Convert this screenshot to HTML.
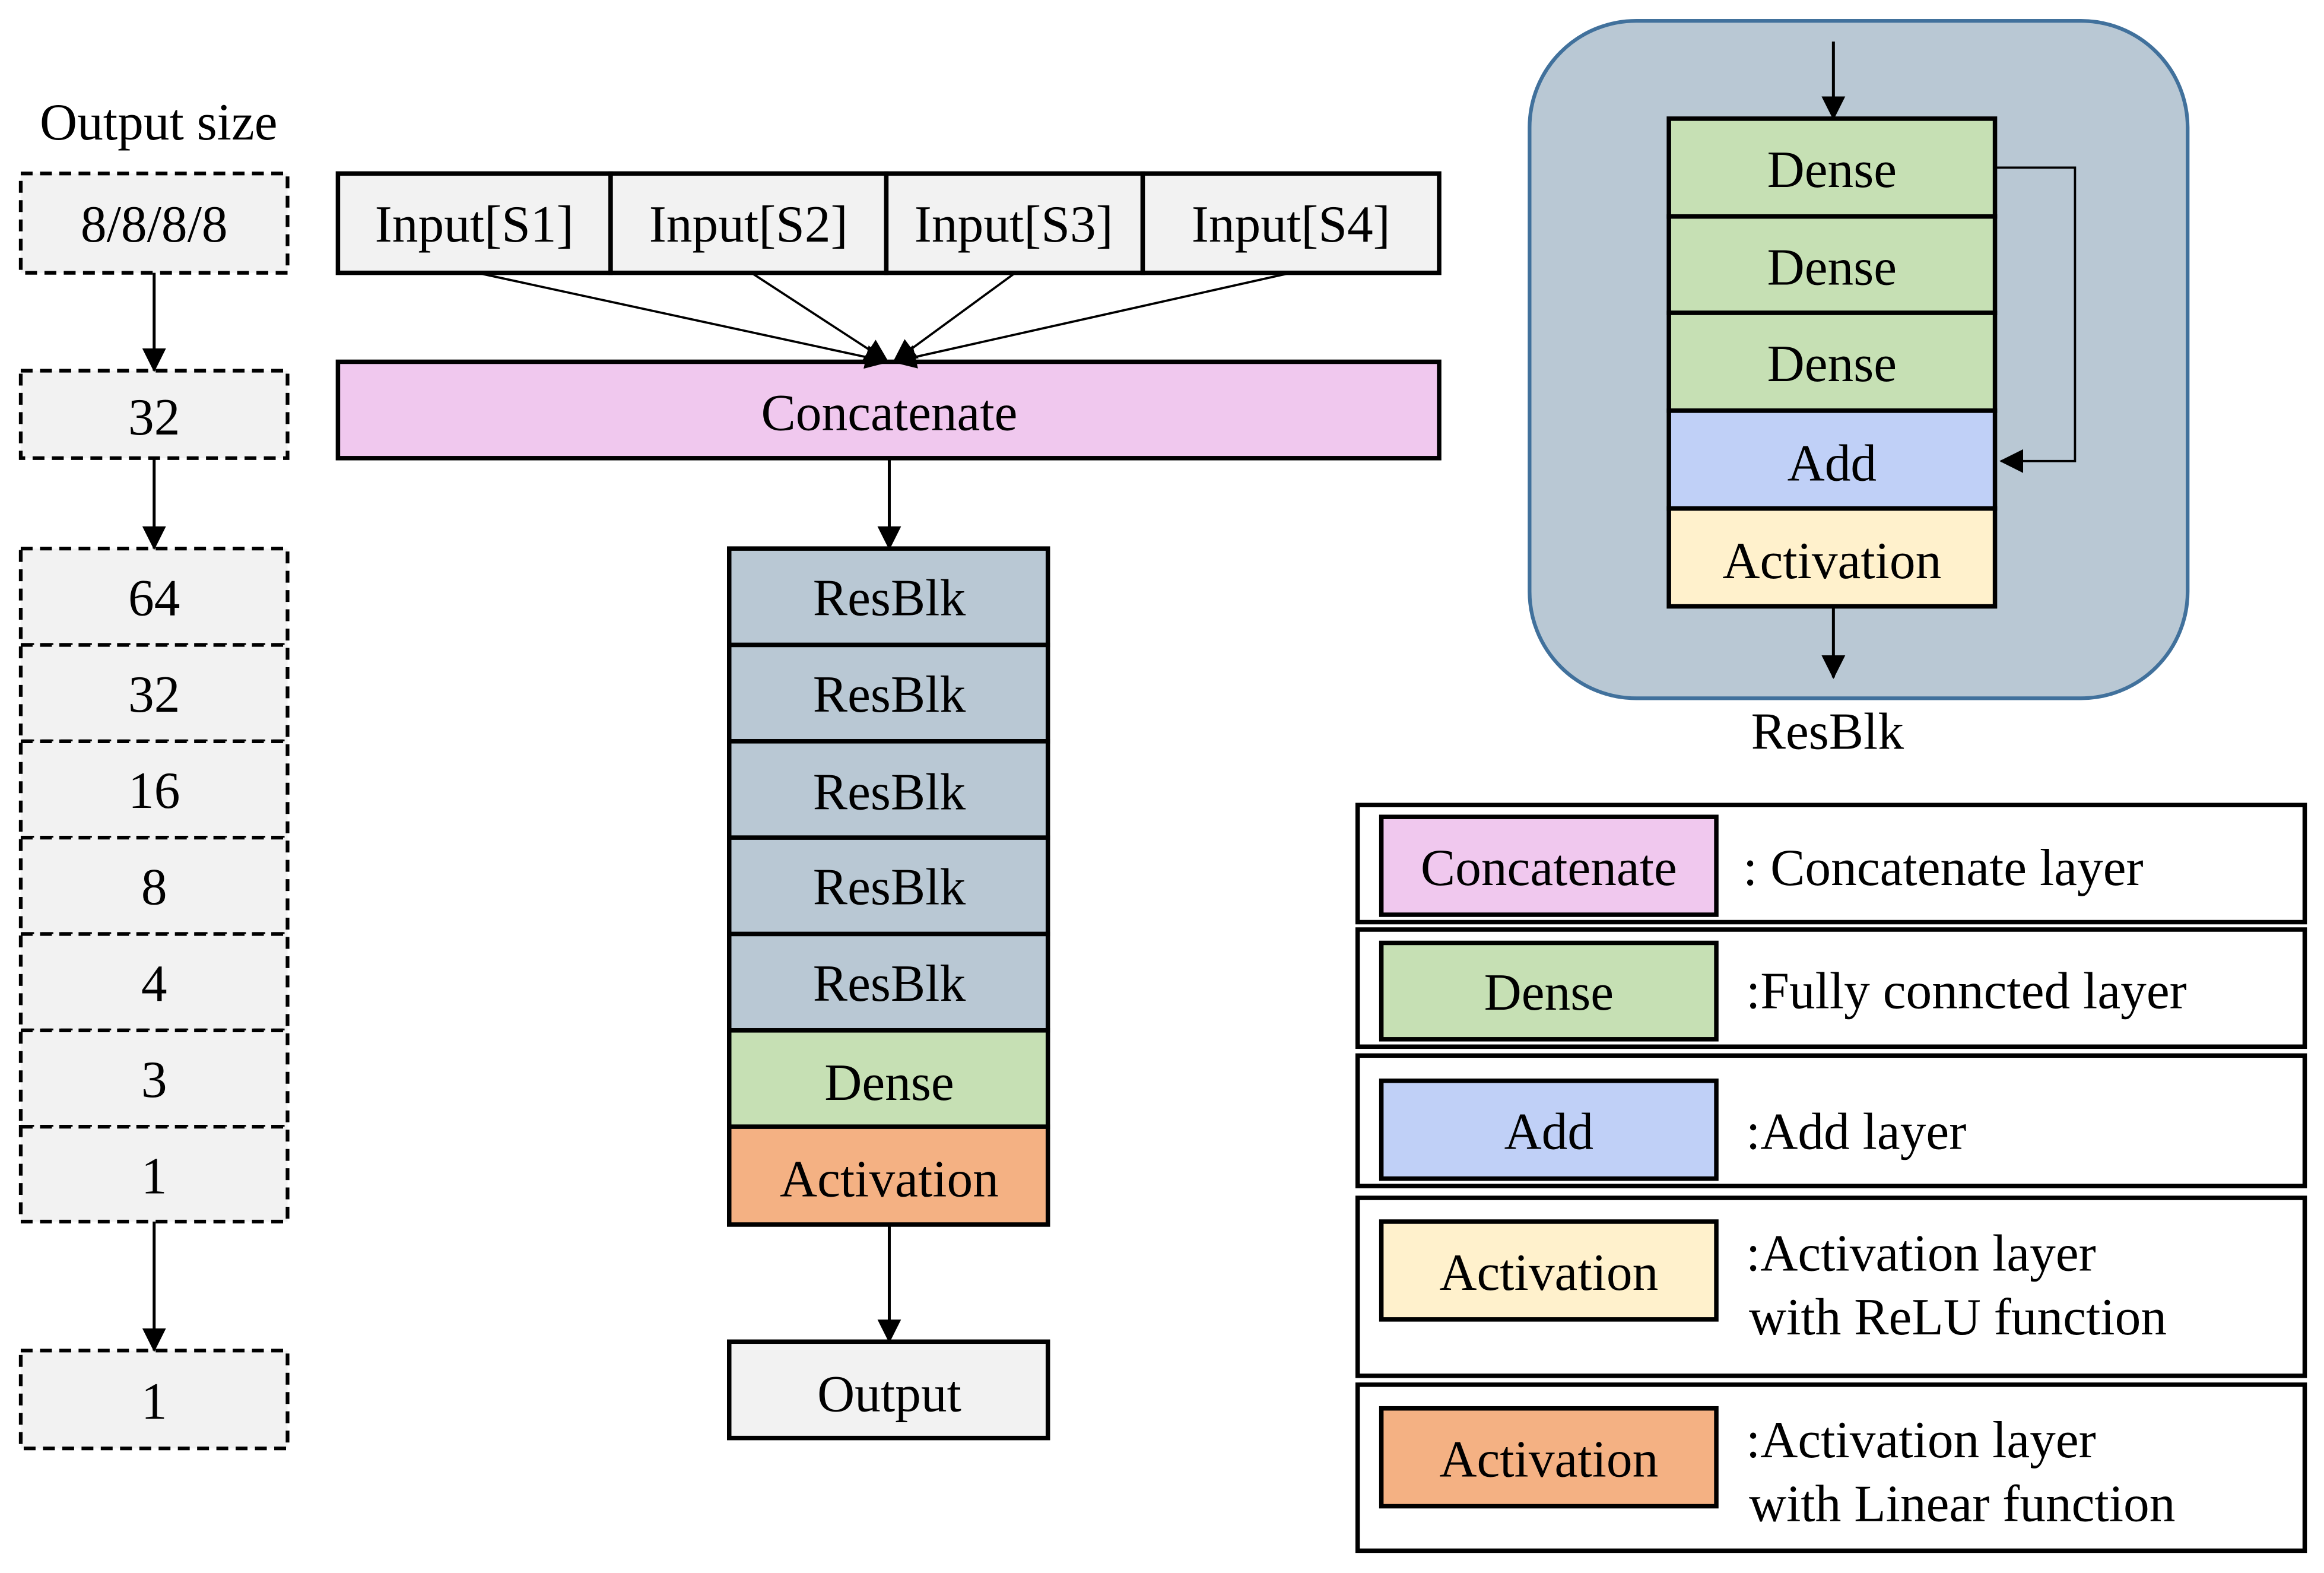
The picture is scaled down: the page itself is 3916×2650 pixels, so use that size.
<!DOCTYPE html>
<html><head><style>html,body{margin:0;padding:0;background:#fff}svg{display:block}</style></head>
<body>
<svg width="3916" height="2650" viewBox="0 0 1568 1061" xmlns="http://www.w3.org/2000/svg" font-family="Liberation Serif, serif" font-size="35" text-anchor="middle">
<defs>
<marker id="b" markerWidth="16" markerHeight="16" refX="15" refY="8" orient="auto" markerUnits="userSpaceOnUse" viewBox="0 0 16 16"><path d="M0,0 L16,8 L0,16 z" fill="#000"/></marker>
</defs>
<rect width="1568" height="1061" fill="#fff"/>
<text x="107" y="94">Output size</text>
<g fill="#f2f2f2" stroke="#000" stroke-width="2.5" stroke-dasharray="8,5">
<rect x="14" y="117" width="180" height="67"/>
<rect x="14" y="250" width="180" height="59"/>
<rect x="14" y="370" width="180" height="65"/>
<rect x="14" y="435" width="180" height="65"/>
<rect x="14" y="500" width="180" height="65"/>
<rect x="14" y="565" width="180" height="65"/>
<rect x="14" y="630" width="180" height="65"/>
<rect x="14" y="695" width="180" height="65"/>
<rect x="14" y="760" width="180" height="64"/>
<rect x="14" y="911" width="180" height="66"/>
</g>
<g>
<text x="104" y="163">8/8/8/8</text>
<text x="104" y="293">32</text>
<text x="104" y="415">64</text>
<text x="104" y="480">32</text>
<text x="104" y="545">16</text>
<text x="104" y="610">8</text>
<text x="104" y="675">4</text>
<text x="104" y="740">3</text>
<text x="104" y="805">1</text>
<text x="104" y="957">1</text>
</g>
<g stroke="#000" stroke-width="2" marker-end="url(#b)">
<line x1="104" y1="184" x2="104" y2="250"/>
<line x1="104" y1="309" x2="104" y2="370"/>
<line x1="104" y1="824" x2="104" y2="911"/>
</g>
<g stroke="#000" stroke-width="3" fill="#f2f2f2">
<rect x="228" y="117" width="184" height="67"/>
<rect x="412" y="117" width="186" height="67"/>
<rect x="598" y="117" width="173" height="67"/>
<rect x="771" y="117" width="200" height="67"/>
<rect x="228" y="244" width="743" height="65" fill="#f0c8ee"/>
</g>
<text x="320" y="163">Input[S1]</text>
<text x="505" y="163">Input[S2]</text>
<text x="684" y="163">Input[S3]</text>
<text x="871" y="163">Input[S4]</text>
<text x="600" y="290">Concatenate</text>
<g stroke="#000" stroke-width="1.5" marker-end="url(#b)">
<line x1="322" y1="184" x2="599" y2="244"/>
<line x1="507" y1="184" x2="599" y2="244"/>
<line x1="685" y1="184" x2="603" y2="244"/>
<line x1="871" y1="184" x2="603" y2="244"/>
</g>
<g stroke="#000" stroke-width="2" marker-end="url(#b)">
<line x1="600" y1="309" x2="600" y2="370"/>
<line x1="600" y1="826" x2="600" y2="905"/>
</g>
<g stroke="#000" stroke-width="3">
<rect x="492" y="370" width="215" height="65" fill="#b9c8d4"/>
<rect x="492" y="435" width="215" height="65" fill="#b9c8d4"/>
<rect x="492" y="500" width="215" height="65" fill="#b9c8d4"/>
<rect x="492" y="565" width="215" height="65" fill="#b9c8d4"/>
<rect x="492" y="630" width="215" height="65" fill="#b9c8d4"/>
<rect x="492" y="695" width="215" height="65" fill="#c6e0b4"/>
<rect x="492" y="760" width="215" height="66" fill="#f4b183"/>
<rect x="492" y="905" width="215" height="65" fill="#f2f2f2"/>
</g>
<text x="600" y="415">ResBlk</text>
<text x="600" y="480">ResBlk</text>
<text x="600" y="546">ResBlk</text>
<text x="600" y="610">ResBlk</text>
<text x="600" y="675">ResBlk</text>
<text x="600" y="742">Dense</text>
<text x="600" y="807">Activation</text>
<text x="600" y="952">Output</text>
<rect x="1032" y="14" width="444" height="457" rx="72" fill="#b9c8d4" stroke="#41719c" stroke-width="2.5"/>
<g stroke="#000" stroke-width="3">
<rect x="1126" y="80" width="220" height="66" fill="#c6e0b4"/>
<rect x="1126" y="146" width="220" height="65" fill="#c6e0b4"/>
<rect x="1126" y="211" width="220" height="66" fill="#c6e0b4"/>
<rect x="1126" y="277" width="220" height="66" fill="#c0d0f7"/>
<rect x="1126" y="343" width="220" height="66" fill="#fff1cc"/>
</g>
<text x="1236" y="126">Dense</text>
<text x="1236" y="192">Dense</text>
<text x="1236" y="257">Dense</text>
<text x="1236" y="324">Add</text>
<text x="1236" y="390">Activation</text>
<g stroke="#000" stroke-width="2" marker-end="url(#b)" fill="none">
<line x1="1237" y1="28" x2="1237" y2="80"/>
<line x1="1237" y1="409" x2="1237" y2="457"/>
<polyline points="1346,113 1400,113 1400,311 1350,311" stroke-width="1.5"/>
</g>
<text x="1233" y="505">ResBlk</text>
<g stroke="#000" stroke-width="3" fill="#fff">
<rect x="916" y="543" width="639" height="79"/>
<rect x="916" y="627" width="639" height="79"/>
<rect x="916" y="712" width="639" height="88"/>
<rect x="916" y="808" width="639" height="120"/>
<rect x="916" y="934" width="639" height="112"/>
<rect x="932" y="551" width="226" height="66" fill="#f0c8ee"/>
<rect x="932" y="636" width="226" height="65" fill="#c6e0b4"/>
<rect x="932" y="729" width="226" height="66" fill="#c0d0f7"/>
<rect x="932" y="824" width="226" height="66" fill="#fff1cc"/>
<rect x="932" y="950" width="226" height="66" fill="#f4b183"/>
</g>
<text x="1045" y="597">Concatenate</text>
<text x="1045" y="681">Dense</text>
<text x="1045" y="775">Add</text>
<text x="1045" y="870">Activation</text>
<text x="1045" y="996">Activation</text>
<g text-anchor="start">
<text x="1176" y="597">: Concatenate layer</text>
<text x="1178" y="680">:Fully  conncted layer</text>
<text x="1178" y="775">:Add layer</text>
<text x="1178" y="857">:Activation  layer</text>
<text x="1180" y="900">with ReLU function</text>
<text x="1178" y="983">:Activation  layer</text>
<text x="1180" y="1026">with Linear function</text>
</g>
</svg>
</body></html>
